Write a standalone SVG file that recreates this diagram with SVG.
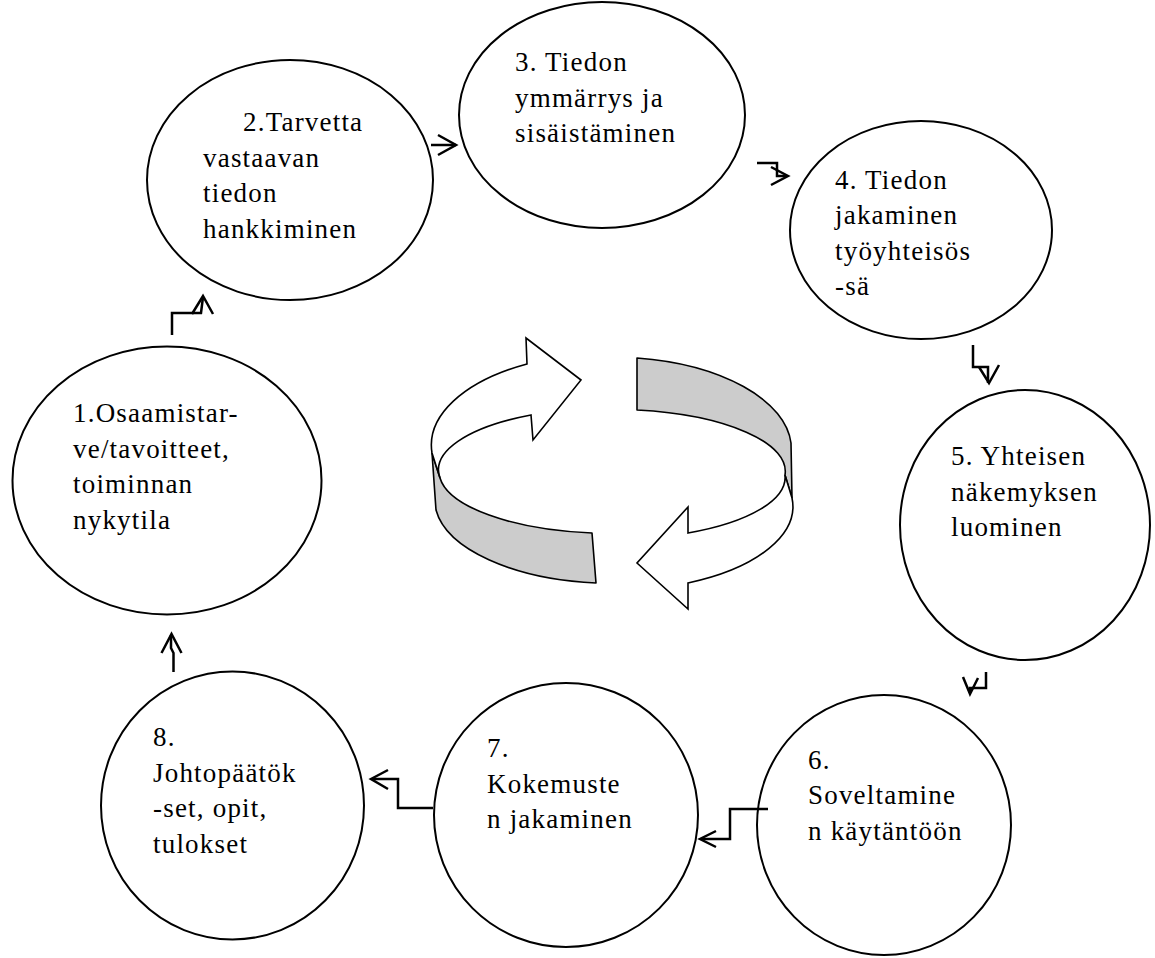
<svg xmlns="http://www.w3.org/2000/svg" width="1155" height="958" viewBox="0 0 1155 958">
  <style>
    .node ellipse { fill: #ffffff; stroke: #000000; stroke-width: 2; }
    .node text { font-family: "Liberation Serif", "Times New Roman", serif; font-size: 27px; letter-spacing: 1.2px; fill: #000000; }
    .conn path { fill: none; stroke: #000000; stroke-width: 2.5; stroke-linejoin: miter; }
    .cycle .band { fill: #cccccc; stroke: #000000; stroke-width: 1.6; stroke-linejoin: round; }
    .cycle .turn { fill: #ffffff; stroke: #000000; stroke-width: 1.6; stroke-linejoin: miter; }
  </style>

  <rect width="1155" height="958" fill="#ffffff"/>

  <!-- central rotating ribbon -->
  <g id="cycle" class="cycle">
    <path class="band" d="M637,358 A180,92 0 0,1 791,443 L792,498 L785,475 A173,62 0 0,0 637,410 Z"/>
    <path class="band" d="M432,453 L436,510 A178,84 0 0,0 596,583 L592,533 A173,62 0 0,1 440,478 Z"/>
    <path class="turn" d="M432,453 A180,92 0 0,1 527,364 L526,338 L581,380 L533,440 L531,415 A173,62 0 0,0 440,478 Z"/>
    <path class="turn" d="M792,498 A178,84 0 0,1 688,583 L688,609 L637,563 L688,507 L688,533 A173,62 0 0,0 785,475 Z"/>
  </g>

  <!-- step nodes -->
  <g id="node1" class="node">
    <ellipse cx="167" cy="480.5" rx="154.5" ry="134"/>
    <text x="73" y="422">1.Osaamistar-</text>
    <text x="73" y="457.5">ve/tavoitteet,</text>
    <text x="73" y="493">toiminnan</text>
    <text x="73" y="528.5">nykytila</text>
  </g>
  <g id="node2" class="node">
    <ellipse cx="290" cy="180" rx="143" ry="120"/>
    <text x="243" y="131">2.Tarvetta</text>
    <text x="203" y="166.5">vastaavan</text>
    <text x="203" y="202">tiedon</text>
    <text x="203" y="237.5">hankkiminen</text>
  </g>
  <g id="node3" class="node">
    <ellipse cx="602" cy="115" rx="143" ry="113"/>
    <text x="515" y="71">3. Tiedon</text>
    <text x="515" y="106.5">ymmärrys ja</text>
    <text x="515" y="142">sisäistäminen</text>
  </g>
  <g id="node4" class="node">
    <ellipse cx="921" cy="230" rx="131" ry="109"/>
    <text x="835" y="188.5">4. Tiedon</text>
    <text x="835" y="224">jakaminen</text>
    <text x="835" y="259.5">työyhteisös</text>
    <text x="835" y="295">-sä</text>
  </g>
  <g id="node5" class="node">
    <ellipse cx="1025" cy="525" rx="125" ry="135"/>
    <text x="951" y="465">5. Yhteisen</text>
    <text x="951" y="500.5">näkemyksen</text>
    <text x="951" y="536">luominen</text>
  </g>
  <g id="node6" class="node">
    <ellipse cx="884" cy="825" rx="127" ry="130"/>
    <text x="808" y="768.5">6.</text>
    <text x="808" y="804">Soveltamine</text>
    <text x="808" y="839.5">n käytäntöön</text>
  </g>
  <g id="node7" class="node">
    <ellipse cx="566" cy="815" rx="132" ry="132"/>
    <text x="487" y="757">7.</text>
    <text x="487" y="792.5">Kokemuste</text>
    <text x="487" y="828">n jakaminen</text>
  </g>
  <g id="node8" class="node">
    <ellipse cx="232.5" cy="805.5" rx="131.5" ry="134"/>
    <text x="153" y="746">8.</text>
    <text x="153" y="781.5">Johtopäätök</text>
    <text x="153" y="817">-set, opit,</text>
    <text x="153" y="852.5">tulokset</text>
  </g>

  <!-- elbow connectors between steps -->
  <g id="connectors" class="conn">
    <path d="M172,335 V313 H201 L203,297"/>
    <path d="M192,314 L203,296 L213,314"/>

    <path d="M431,145 H456"/>
    <path d="M438,135 L456,145 L438,155"/>

    <path d="M757,163 H777 V176 H787"/>
    <path d="M771,167 L788,176 L771,185"/>

    <path d="M973,345 V367 H988 V383"/>
    <path d="M979,367 L989,383 L999,365"/>

    <path d="M986,672 V688 H970 V693"/>
    <path d="M963,677 L970,694 L978,678"/>

    <path d="M768,809 H730 V839 H702"/>
    <path d="M716,831 L700,839 L716,847"/>

    <path d="M433,808 H398 V779 H372"/>
    <path d="M388,770 L371,779 L388,789"/>

    <path d="M173.5,672 V653 L171,648 V635"/>
    <path d="M161.5,653 L171.5,634 L181.5,653"/>
  </g>
</svg>
